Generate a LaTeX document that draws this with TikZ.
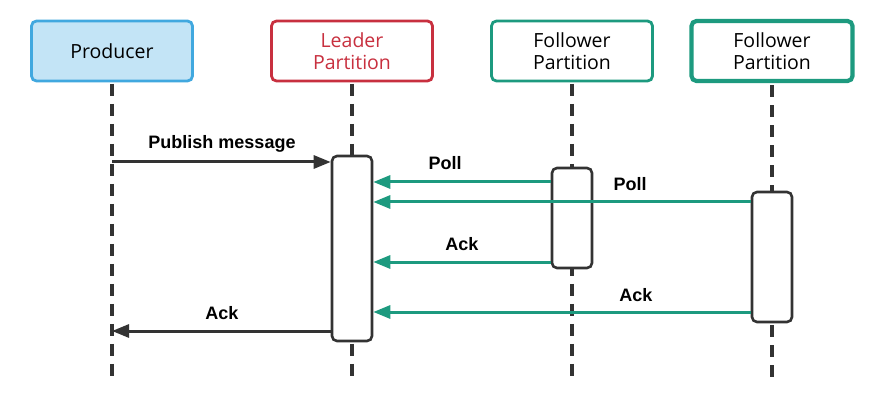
\documentclass[tikz,border=0pt]{standalone}
\usepackage{fontspec}
\newfontfamily\headfont{Open Sans}
\newfontfamily\lblfont{Liberation Sans}
\usetikzlibrary{arrows.meta}
\definecolor{dark}{HTML}{333333}
\definecolor{prodfill}{HTML}{C3E4F6}
\definecolor{prodline}{HTML}{41A8DF}
\definecolor{leadred}{HTML}{C8303F}
\definecolor{teal}{HTML}{1D9A7F}
\tikzset{
  head/.style={rectangle, rounded corners=5pt, minimum width=161pt, minimum height=60pt, align=center, font=\headfont\fontsize{19.5}{22}\selectfont, line width=2.8pt, inner sep=0pt},
  life/.style={draw=dark, line width=4pt, dash pattern=on 12pt off 8pt},
  act/.style={draw=dark, fill=white, rounded corners=5pt, line width=2.6pt, minimum width=40pt, inner sep=0pt},
  msg/.style={line width=3pt, -{Triangle[length=17pt,width=13pt]}},
  lbl/.style={font=\lblfont\bfseries\fontsize{18}{20}\selectfont, inner sep=0pt, text=black}
}
\begin{document}
\begin{tikzpicture}[x=1pt,y=-1pt]
\useasboundingbox[fill=white] (0,0) rectangle (876,409);
% heads
\node[head, draw=prodline, fill=prodfill] (prod) at (112,51) {Producer};
\node[head, draw=leadred, fill=white, text=leadred] (lead) at (352,51) {Leader\\Partition};
\node[head, draw=teal, fill=white] (f1) at (572,51) {Follower\\Partition};
\node[head, draw=teal, fill=white, line width=4.2pt] (f2) at (772,51) {Follower\\Partition};
% lifeline ends
\coordinate (pe) at (112,383);
\coordinate (le) at (352,383);
\coordinate (f1e) at (572,383);
\coordinate (f2e) at (772,383);
\draw[life] ([yshift=-1.4pt]prod.south) -- (pe);
\draw[life] ([yshift=-1.4pt]lead.south) -- (le);
\draw[life] ([yshift=-1.4pt]f1.south) -- (f1e);
\draw[life] ([yshift=-2.1pt]f2.south) -- (f2e);
% activation boxes
\node[act, minimum height=185pt] (la) at (352,248.5) {};
\node[act, minimum height=100pt] (f1a) at (572,218) {};
\node[act, minimum height=130pt] (f2a) at (772,257) {};
% message anchor points
\coordinate (pub) at (112,162);
\coordinate (poll1) at (572,182);
\coordinate (poll2) at (772,202);
\coordinate (ack1) at (572,262);
\coordinate (ack2) at (772,312);
\coordinate (ack0) at (352,331);
% messages
\draw[msg, draw=dark, fill=dark] (pub) -- (la.west |- pub);
\draw[msg, draw=teal, fill=teal] (f1a.west |- poll1) -- (la.east |- poll1);
\draw[msg, draw=teal, fill=teal] (f2a.west |- poll2) -- (la.east |- poll2);
\draw[msg, draw=teal, fill=teal] (f1a.west |- ack1) -- (la.east |- ack1);
\draw[msg, draw=teal, fill=teal] (f2a.west |- ack2) -- (la.east |- ack2);
\draw[msg, draw=dark, fill=dark] (la.west |- ack0) -- (prod.south |- ack0);
% labels
\node[lbl] (lpub) at (222,144) {Publish message};
\node[lbl] (lpoll1) at (445,163) {Poll};
\node[lbl] (lpoll2) at (630,184) {Poll};
\node[lbl] (lack1) at (462,244) {Ack};
\node[lbl] (lack2) at (636,295) {Ack};
\node[lbl] (lack0) at (222,313) {Ack};
\end{tikzpicture}
\end{document}
